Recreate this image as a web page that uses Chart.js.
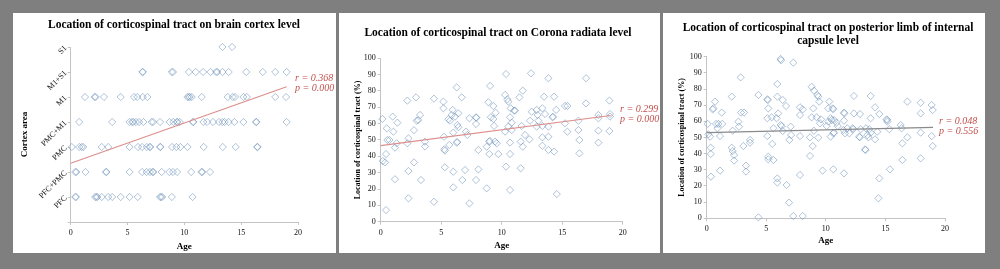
<!DOCTYPE html>
<html><head><meta charset="utf-8">
<script src="https://cdn.jsdelivr.net/npm/chart.js@4.4.0/dist/chart.umd.min.js"></script>
<style>
html,body{margin:0;padding:0;}
body{width:1000px;height:269px;background:#7f7f7f;position:relative;overflow:hidden;}
.panel{position:absolute;background:#fff;}
canvas{display:block;}
</style></head><body>
<div class="panel" style="left:13px;top:13px;width:323px;height:240px"><canvas id="c1" width="323" height="240"></canvas></div>
<div class="panel" style="left:339px;top:13px;width:321px;height:240px"><canvas id="c2" width="321" height="240"></canvas></div>
<div class="panel" style="left:663px;top:13px;width:322px;height:240px"><canvas id="c3" width="322" height="240"></canvas></div>
<script>
// ---------- Panel 1: cortex level (category rows) ----------
const cortexLabels = ['PFC', 'PFC+PMC', 'PMC', 'PMC+M1', 'M1', 'M1+S1', 'S1'];
const agesPFC = [0.4, 0.47, 2.15, 2.25, 2.35, 2.73, 3.3, 3.65, 4.4, 5.18, 5.9, 7.86, 7.95, 8.05, 8.9, 10.72];
const agesPFCPMC = [0.4, 0.5, 1.3, 3.1, 3.15, 5.18, 6.28, 6.68, 6.97, 7.2, 7.28, 8.0, 8.68, 9.0, 9.36, 10.6, 11.5, 11.58, 12.26];
const agesPMC = [0.1, 0.75, 0.97, 1.1, 2.73, 3.3, 5.18, 5.92, 6.28, 6.7, 6.95, 7.0, 7.86, 7.9, 8.92, 9.3, 9.65, 10.28, 11.7, 13.38, 14.52, 16.4, 16.45];
const agesPMCM1 = [0.74, 3.65, 5.17, 5.4, 5.5, 5.75, 6.02, 6.4, 7.13, 7.25, 7.86, 8.7, 9.03, 9.33, 9.4, 9.6, 10.75, 10.8, 11.68, 12.0, 12.52, 13.05, 13.35, 13.55, 13.9, 14.4, 15.2, 16.3, 16.35, 19.0];
const agesM1 = [1.26, 2.1, 2.2, 2.93, 4.4, 5.57, 5.86, 6.34, 6.75, 10.27, 10.4, 10.48, 10.65, 11.53, 13.82, 14.26, 14.46, 15.2, 15.5, 18.0, 18.95];
const agesM1S1 = [6.3, 6.36, 8.9, 9.0, 10.4, 11.0, 11.65, 12.3, 12.8, 12.9, 13.35, 13.9, 15.45, 16.9, 18.0, 19.0];
const agesS1 = [13.35, 14.2];
const cortexRows = [agesPFC, agesPFCPMC, agesPMC, agesPMCM1, agesM1, agesM1S1, agesS1];
const cortexFitX = [0, 19];
const cortexFitY = [2.35, 5.41];

// ---------- Panel 2: corona radiata ----------
const coronaAge = [0.14,0.17,0.36,0.44,0.5,0.55,0.72,0.44,0.99,1.05,1.18,1.18,1.38,1.32,2.2,2.2,2.3,2.29,2.29,2.75,2.75,2.92,2.98,3.1,3.25,3.33,3.66,3.66,4.4,4.4,5.18,5.18,5.23,5.26,5.3,5.3,5.6,5.67,5.73,5.87,5.95,6.0,6.0,6.0,6.14,6.28,6.28,6.32,6.34,6.42,6.42,6.7,6.75,6.97,7.05,7.16,7.33,7.33,7.88,7.9,7.88,7.88,8.07,8.07,8.76,8.76,8.9,8.98,9.02,8.98,9.04,9.1,9.31,9.31,9.37,9.45,9.5,9.59,9.72,10.36,10.28,10.28,10.36,10.47,10.55,10.55,10.69,10.69,10.69,10.69,10.74,10.83,10.83,11.02,11.1,11.46,11.57,11.57,11.65,11.74,11.74,11.93,12.29,12.34,12.42,12.48,12.89,12.89,12.97,13.03,13.36,13.36,13.36,13.36,13.5,13.58,13.86,13.86,13.86,13.86,14.2,14.24,14.33,14.33,14.5,14.55,15.23,15.43,15.43,15.23,16.34,16.34,16.42,16.42,16.97,16.97,17.99,17.99,17.99,17.99,18.9,18.95,18.95,18.9];
const coronaPct = [62.9,37.1,36.3,41.4,57.1,50,50,7.1,64.3,55.1,45.3,26,60.6,48,74.1,48,51,31,14.3,56,36.3,76.1,61.8,62.2,65.3,25.5,49,46,75.3,12.2,73.5,69.4,52,44.3,43.5,33.3,62.7,47,61.8,65.3,68.4,54.5,30.6,21,64.3,82.2,48.4,48.8,59.2,66.3,57.8,76.1,25.5,31.6,55.1,53.1,63.3,11.2,63.9,63.6,59.8,25.5,43.9,32,45.9,20.4,73.1,49,49.4,41.4,83.1,63.9,70.8,62.9,58.6,49,66.7,48,41.4,90.4,77.6,55.1,33.7,74.9,73.5,58.2,48.4,41.4,19.4,63.9,69.4,60.6,56.1,68,68,76.1,49,32.7,58.6,80.2,45.9,53.1,50.4,61.8,90.8,67.3,68.4,58.2,65.3,61.8,69.4,58.6,51.6,46.5,76.5,65.9,87.8,58.2,52,43.9,63.9,64.2,76.5,42.9,68.4,16.9,70.8,70.8,55.1,60.2,61.8,56.1,50,41.8,87.8,72.4,65.3,63.3,55.7,48.4,74.1,65.9,64.3,55.5];
const coronaFitX = [0, 19];
const coronaFitY = [46.5, 65.0];

// ---------- Panel 3: posterior limb of internal capsule ----------
const plicAge = [0.08,0.14,0.28,0.34,0.34,0.36,0.5,0.56,0.7,0.78,0.9,0.98,1.12,1.12,1.26,1.3,2.1,2.1,2.18,2.18,2.3,2.3,2.66,2.71,2.85,2.88,3.13,3.08,3.3,3.3,3.64,3.64,4.34,4.34,5.09,5.13,5.17,5.09,5.09,5.17,5.17,5.45,5.5,5.6,5.6,5.87,5.93,5.93,6.0,5.93,5.93,6.2,6.24,6.2,6.3,6.38,6.38,6.66,6.71,6.91,6.94,7.05,7.08,7.27,7.27,7.83,7.83,7.83,7.83,8.06,8.06,8.67,8.67,8.81,8.81,8.9,8.95,9.0,9.0,9.23,9.29,9.37,9.37,9.45,9.51,9.6,9.73,10.07,10.21,10.29,10.21,10.4,10.4,10.49,10.57,10.62,10.63,10.63,10.69,10.69,10.9,11.0,11.52,11.56,11.52,11.52,11.47,11.6,11.8,11.97,12.25,12.29,12.36,12.36,12.81,12.85,12.87,12.92,13.29,13.33,13.37,13.48,13.57,13.65,13.76,13.76,13.76,14.13,14.13,14.32,14.41,14.49,14.49,15.1,15.14,15.16,15.33,15.38,16.28,16.36,16.42,16.42,16.84,16.84,17.96,17.96,17.96,17.96,18.88,18.97,18.88,18.97];
const plicPct = [58.4,52,50.5,43.7,39.8,25.8,67.4,68,72.2,58.4,55.7,58.4,50.9,29.5,65.4,58.4,75.3,43.7,41.6,54.2,39.2,35.7,59.8,56.7,87.2,65.4,65.4,44.7,32.6,28.9,48.5,46.8,76.3,0.6,73.6,73.2,68,61.9,50.9,38.1,36.5,62.5,46,36.1,55.7,61.9,83.1,75.3,64.9,24.7,22.1,98.6,97.8,57.7,57.1,73.2,54,69.5,20.6,9.7,48.5,56.7,51.5,96.3,1.4,68.7,63.9,50.9,26.8,1.4,67.4,38.6,50.1,81.4,62.5,44.7,68,79,54.2,62.5,76.3,75.3,49.9,72.2,58.8,61.2,29.5,57.1,59.8,72.2,68,50.5,61.9,60.8,68,67.5,52.6,30.3,53,60.8,59.2,57.1,65.4,64.9,60.4,27.8,54.6,52.6,55.7,52.6,55.7,55.2,75.7,64.9,50.5,50.1,64.5,55.1,42.7,42.2,55.7,51.5,50.1,55.1,75.7,61.9,53,68.7,48.9,53.6,12.4,24.7,64.5,61.2,60.8,59.8,55.1,30.3,57.7,55.7,46.4,36.1,72.2,50.1,71.5,64.9,53,37.1,70.1,67,50.9,44.7];
const plicFitX = [0, 19];
const plicFitY = [53.0, 56.3];

// ---------- helpers ----------
const SERIF = '"Liberation Serif", "Times New Roman", serif';
const pts = (xs, ys) => xs.map((x, i) => ({x: x, y: ys[i]}));

const panelText = {
  id: 'panelText',
  afterDraw(chart, args, o) {
    const ctx = chart.ctx;
    ctx.save();
    ctx.textAlign = 'center';
    ctx.textBaseline = 'middle';
    ctx.fillStyle = '#000';
    ctx.font = 'bold 11.5px ' + SERIF;
    o.title.forEach((t, i) => ctx.fillText(t, o.titleX, o.titleY + i * 13));
    ctx.textAlign = 'left';
    ctx.fillStyle = '#c0504d';
    ctx.font = 'italic 10px ' + SERIF;
    ctx.fillText(o.r, o.noteX, o.noteY);
    ctx.fillText(o.p, o.noteX, o.noteY + 10);
    ctx.restore();
  }
};

function makeChart(id, c) {
  const axisCommon = {
    border: {color: '#c4c4c4', width: 1},
    grid: {display: true, drawOnChartArea: false, drawTicks: true, tickLength: 3, color: '#c4c4c4'},
  };
  return new Chart(document.getElementById(id), {
    type: 'scatter',
    data: {
      datasets: [
        {
          data: c.points,
          pointStyle: 'rectRot',
          pointRadius: 3.6,
          pointBorderWidth: 1,
          pointBackgroundColor: 'rgba(0,0,0,0)',
          pointBorderColor: 'rgba(95,135,180,0.5)',
          clip: false,
          order: 2
        },
        {
          type: 'line',
          data: c.fit,
          borderColor: c.fitColor,
          borderWidth: 1.2,
          pointRadius: 0,
          fill: false,
          order: 1
        }
      ]
    },
    options: {
      responsive: false,
      animation: false,
      devicePixelRatio: 1,
      layout: {padding: {left: 0, right: c.padRight, top: c.padTop, bottom: 0}},
      plugins: {
        legend: {display: false},
        tooltip: {enabled: false},
        title: {display: false},
        panelText: c.text
      },
      scales: {
        x: Object.assign({}, axisCommon, {
          type: 'linear', min: 0, max: 20,
          ticks: {stepSize: 5, color: '#111', padding: 3, font: {family: SERIF, size: 8}},
          title: {display: true, text: 'Age', color: '#000', padding: {top: 0, bottom: c.xTitlePad},
                  font: {family: SERIF, size: 9, weight: 'bold'}},
          afterFit: s => { s.height = c.bottomH; }
        }),
        y: Object.assign({}, axisCommon, {
          type: 'linear', min: c.yMin, max: c.yMax,
          ticks: Object.assign({color: '#111', padding: 2, font: {family: SERIF, size: 8}}, c.yTicks),
          title: {display: true, text: c.yTitle, color: '#000', padding: {top: c.yTitlePad, bottom: 0},
                  font: {family: SERIF, size: c.yTitleSize, weight: 'bold'}},
          afterFit: s => { s.width = c.leftW; }
        })
      }
    },
    plugins: [panelText]
  });
}

// Panel 1 data points from rows
const cortexPoints = [];
cortexRows.forEach((row, i) => row.forEach(a => cortexPoints.push({x: a, y: i + 1})));

makeChart('c1', {
  points: cortexPoints,
  fit: pts(cortexFitX, cortexFitY),
  fitColor: '#dc8f8c',
  padRight: 38, padTop: 34, leftW: 57.7, bottomH: 31,
  xTitlePad: 0.6,
  yMin: 0, yMax: 7,
  yTicks: {stepSize: 1, minRotation: 45, maxRotation: 45, callback: v => cortexLabels[v - 1] || ''},
  yTitle: 'Cortex area', yTitleSize: 9, yTitlePad: 6.6,
  text: {title: ['Location of corticospinal tract on brain cortex level'], titleX: 161, titleY: 12,
         r: 'r = 0.368', p: 'p = 0.000', noteX: 282, noteY: 65}
});

makeChart('c2', {
  points: pts(coronaAge, coronaPct),
  fit: pts(coronaFitX, coronaFitY),
  fitColor: '#dc8f8c',
  padRight: 37.3, padTop: 45.3, leftW: 41.7, bottomH: 31.3,
  xTitlePad: 1.6,
  yMin: 0, yMax: 100,
  yTicks: {stepSize: 10},
  yTitle: 'Location of corticospinal tract (%)', yTitleSize: 8, yTitlePad: 14.2,
  text: {title: ['Location of corticospinal tract on Corona radiata level'], titleX: 159, titleY: 20,
         r: 'r = 0.299', p: 'p = 0.000', noteX: 281, noteY: 96.5}
});

makeChart('c3', {
  points: pts(plicAge, plicPct),
  fit: pts(plicFitX, plicFitY),
  fitColor: '#8a8a8a',
  padRight: 40, padTop: 43.7, leftW: 43.7, bottomH: 34.7,
  xTitlePad: 6.6,
  yMin: 0, yMax: 100,
  yTicks: {stepSize: 10},
  yTitle: 'Location of corticospinal tract (%)', yTitleSize: 8, yTitlePad: 14.2,
  text: {title: ['Location of corticospinal tract on posterior limb of internal', 'capsule level'], titleX: 165, titleY: 15,
         r: 'r = 0.048', p: 'p = 0.556', noteX: 276, noteY: 108}
});
</script>
</body></html>
